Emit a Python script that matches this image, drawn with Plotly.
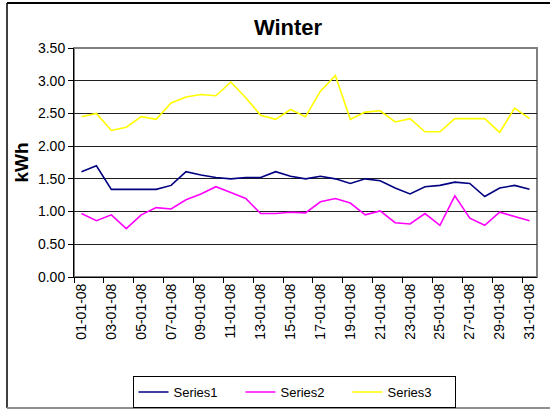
import plotly.graph_objects as go

days = [f"{d:02d}-01-08" for d in range(1, 32)]
series1 = [1.61, 1.70, 1.34, 1.34, 1.34, 1.34, 1.40, 1.61, 1.56, 1.52, 1.50, 1.52, 1.52, 1.61, 1.54, 1.50,
           1.54, 1.50, 1.43, 1.50, 1.47, 1.36, 1.27, 1.38, 1.40, 1.45, 1.43, 1.23, 1.36, 1.40, 1.34]
series2 = [0.97, 0.86, 0.95, 0.74, 0.95, 1.06, 1.04, 1.18, 1.27, 1.38, 1.29, 1.20, 0.97, 0.97, 0.99, 0.98,
           1.15, 1.20, 1.13, 0.95, 1.01, 0.83, 0.81, 0.97, 0.79, 1.24, 0.90, 0.79, 0.99, 0.93, 0.86]
series3 = [2.45, 2.50, 2.24, 2.29, 2.45, 2.41, 2.66, 2.75, 2.79, 2.77, 2.98, 2.74, 2.47, 2.41, 2.56, 2.45,
           2.84, 3.08, 2.41, 2.52, 2.54, 2.37, 2.42, 2.22, 2.22, 2.42, 2.42, 2.42, 2.21, 2.58, 2.42]
names = ["Series1", "Series2", "Series3"]
colors = ["#000080", "#FF00FF", "#FFFF00"]

fig = go.Figure()
for name, vals, col in zip(names, [series1, series2, series3], colors):
    fig.add_trace(go.Scatter(x=days, y=vals, mode="lines", name=name,
                             line=dict(color=col, width=1.6)))

L, R, T, B = 74, 13, 48, 133
W, H = 550, 410
pw, ph = W - L - R, H - T - B

def px_x(x):
    return (x - L) / pw

def px_y(y):
    return (H - B - y) / ph

fig.update_layout(
    width=W, height=H,
    margin=dict(l=L, r=R, t=T, b=B, autoexpand=False),
    paper_bgcolor="white", plot_bgcolor="white",
    font=dict(family="Liberation Sans, Arial, sans-serif", size=13, color="black"),
    title=dict(text="<b>Winter</b>", x=288 / W, xanchor="center", y=1 - 27 / H, yanchor="middle",
               font=dict(size=22, color="black"), automargin=False),
    showlegend=True,
    legend=dict(orientation="h", x=px_x(294), xanchor="center", y=px_y(392), yanchor="middle",
                bordercolor="black", borderwidth=1, font=dict(size=13),
                entrywidth=62, itemwidth=30, traceorder="normal"),
    xaxis=dict(type="category", range=[-0.5, 30.5], dtick=2, tickson="boundaries",
               ticks="outside", ticklen=5, tickcolor="black", tickangle=-90,
               showgrid=False, showline=True, linecolor="black", linewidth=1,
               tickfont=dict(size=14), fixedrange=True, automargin=False),
    yaxis=dict(range=[0, 3.5], dtick=0.5, tickformat=".2f", ticks="outside", ticklen=5,
               tickcolor="black", showline=True, linecolor="black", linewidth=1,
               showgrid=True, gridcolor="#202020", gridwidth=1, tickfont=dict(size=14),
               title=dict(text="<b>kWh</b>", font=dict(size=19), standoff=4), zeroline=False,
               automargin=False, fixedrange=True),
    shapes=[
        dict(type="rect", xref="paper", yref="paper", x0=0, x1=1, y0=0, y1=1,
             line=dict(color="#808080", width=2), layer="below"),
        dict(type="line", xref="paper", yref="paper", x0=px_x(7), x1=px_x(560), y0=px_y(3), y1=px_y(3),
             line=dict(color="black", width=2)),
        dict(type="line", xref="paper", yref="paper", x0=px_x(7), x1=px_x(7), y0=px_y(3), y1=px_y(408),
             line=dict(color="black", width=1.5)),
        dict(type="line", xref="paper", yref="paper", x0=px_x(7), x1=px_x(560), y0=px_y(408), y1=px_y(408),
             line=dict(color="#909090", width=2)),
    ],
)

fig.write_html("out.html", config={"displayModeBar": False},
               post_script="document.body.style.margin='0';document.body.style.overflow='hidden';")
